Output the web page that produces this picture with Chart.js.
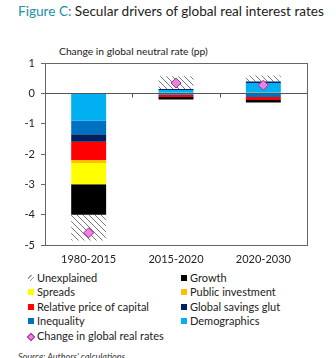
<!DOCTYPE html>
<html><head><meta charset="utf-8">
<script src="https://cdn.jsdelivr.net/npm/chart.js@4/dist/chart.umd.min.js"></script>
<style>
html,body{margin:0;padding:0;background:#fff;width:336px;height:358px;overflow:hidden;position:relative;font-family:Lato,"Open Sans",sans-serif;}
#title{position:absolute;left:18px;top:3px;font-size:13.6px;color:#222;white-space:nowrap;}
#title b{color:#1C90A8;font-weight:normal;}
#ytitle{position:absolute;left:59px;top:45px;font-size:10.3px;color:#222;white-space:nowrap;}
#wrap{position:absolute;left:0;top:0;width:336px;height:270px;}
#legend{position:absolute;left:0;top:270px;width:336px;font-size:11px;color:#222;}
.li{position:absolute;white-space:nowrap;line-height:14px;}
.mk{position:absolute;width:6px;height:6px;top:4px;left:1px;}
#src{position:absolute;left:18px;top:351px;font-size:9px;font-style:italic;color:#333;white-space:nowrap;}
</style></head><body>
<div id="title"><b>Figure C:</b> Secular drivers of global real interest rates</div>
<div id="ytitle">Change in global neutral rate (pp)</div>
<div id="wrap"><canvas id="c" width="336" height="270"></canvas></div>
<div id="legend"></div>
<div id="src">Source: Authors' calculations</div>
<script>
const categories = ['1980-2015', '2015-2020', '2020-2030'];
const demographics = [-0.9, 0.11, 0.34];
const inequality = [-0.45, -0.05, -0.12];
const savingsGlut = [-0.25, 0.03, 0.05];
const relativePrice = [-0.6, -0.07, -0.1];
const publicInvestment = [-0.1, 0, 0];
const spreads = [-0.7, 0, 0];
const growth = [-1.0, -0.08, -0.08];
const unexplained = [-0.85, 0.42, 0.2];
const changeRealRates = [-4.6, 0.34, 0.27];
const yTicks = [1, 0, -1, -2, -3, -4, -5];

function hatch(){
  const p = document.createElement('canvas'); p.width = 6; p.height = 6;
  const g = p.getContext('2d');
  g.fillStyle = '#fff'; g.fillRect(0,0,6,6);
  g.strokeStyle = '#555'; g.lineWidth = 0.8;
  g.beginPath(); g.moveTo(0,0); g.lineTo(6,6); g.moveTo(-3,3); g.lineTo(3,9); g.moveTo(3,-3); g.lineTo(9,3); g.stroke();
  return document.getElementById('c').getContext('2d').createPattern(p,'repeat');
}

const series = [
  {label:'Demographics', data:demographics, color:'#00B0F0'},
  {label:'Inequality', data:inequality, color:'#0070C0'},
  {label:'Global savings glut', data:savingsGlut, color:'#002060'},
  {label:'Relative price of capital', data:relativePrice, color:'#FF0000'},
  {label:'Public investment', data:publicInvestment, color:'#FFC000'},
  {label:'Spreads', data:spreads, color:'#FFFF00'},
  {label:'Growth', data:growth, color:'#000000'},
  {label:'Unexplained', data:unexplained, color:hatch()}
];

const datasets = series.map(s => ({type:'bar', label:s.label, data:s.data, backgroundColor:s.color, borderWidth:0, stack:'s', categoryPercentage:1, barPercentage:0.4, order:2}));
datasets.push({type:'line', label:'Change in global real rates', data:changeRealRates, showLine:false, pointStyle:'rectRot', pointRadius:5, pointBackgroundColor:'#F07FE0', pointBorderColor:'#A0329E', pointBorderWidth:1, stack:'d', order:1});

const frame = {
  id:'frame',
  afterDatasetsDraw(ch){
    const a = ch.chartArea, g = ch.ctx, x = ch.scales.x, y = ch.scales.y;
    g.save();
    g.strokeStyle = '#666'; g.lineWidth = 1;
    g.strokeRect(a.left+0.5, a.top+0.5, a.right-a.left, a.bottom-a.top);
    const y0 = Math.round(y.getPixelForValue(0))+0.5;
    g.strokeStyle = '#555';
    g.beginPath(); g.moveTo(a.left, y0); g.lineTo(a.right, y0); g.stroke();
    for(let i=1;i<categories.length;i++){
      const xb = Math.round((x.getPixelForValue(i-1)+x.getPixelForValue(i))/2)+0.5;
      g.beginPath(); g.moveTo(xb, y0); g.lineTo(xb, y0+4); g.stroke();
    }
    g.restore();
  }
};

new Chart(document.getElementById('c'), {
  data:{labels:categories, datasets},
  options:{
    responsive:false, animation:false,
    layout:{padding:{top:63, right:29, left:0, bottom:0}},
    plugins:{legend:{display:false}, tooltip:{enabled:false}},
    scales:{
      x:{stacked:true, grid:{display:false}, border:{display:false},
         ticks:{color:'#222', font:{family:'Lato', size:11}, padding:0},
         afterFit(s){ s.height = 25; }},
      y:{stacked:true, min:-5, max:1,
         afterBuildTicks(s){ s.ticks = yTicks.map(v=>({value:v})); },
         grid:{drawOnChartArea:false, tickLength:4, tickColor:'#666'},
         border:{display:true, color:'#666'},
         ticks:{color:'#222', font:{family:'Lato', size:11}, padding:6},
         afterFit(s){ s.width = 45; }}
    }
  },
  plugins:[frame]
});

// legend
const legendItems = [
  ['Unexplained','hatch'], ['Growth','#000000'],
  ['Spreads','#FFFF00'], ['Public investment','#FFC000'],
  ['Relative price of capital','#FF0000'], ['Global savings glut','#002060'],
  ['Inequality','#0070C0'], ['Demographics','#00B0F0'],
  ['Change in global real rates','diamond']
];
const L = document.getElementById('legend');
legendItems.forEach((it,i)=>{
  const col = i%2, row = Math.floor(i/2);
  const d = document.createElement('div'); d.className='li';
  d.style.left = (col? 180:27)+'px'; d.style.top = (1+row*14.4)+'px';
  const m = document.createElement('span'); m.className='mk';
  if(it[1]==='hatch'){ m.style.background='repeating-linear-gradient(135deg,#fff 0 2px,#999 2px 3px)'; }
  else if(it[1]==='diamond'){ m.style.width='4px'; m.style.height='4px'; m.style.left='1px'; m.style.top='5px'; m.style.transform='rotate(45deg)'; m.style.background='#F07FE0'; m.style.border='1px solid #A0329E'; }
  else m.style.background = it[1];
  d.appendChild(m);
  const t = document.createElement('span'); t.textContent = it[0]; t.style.marginLeft='10px';
  d.appendChild(t);
  L.appendChild(d);
});
</script>
</body></html>
